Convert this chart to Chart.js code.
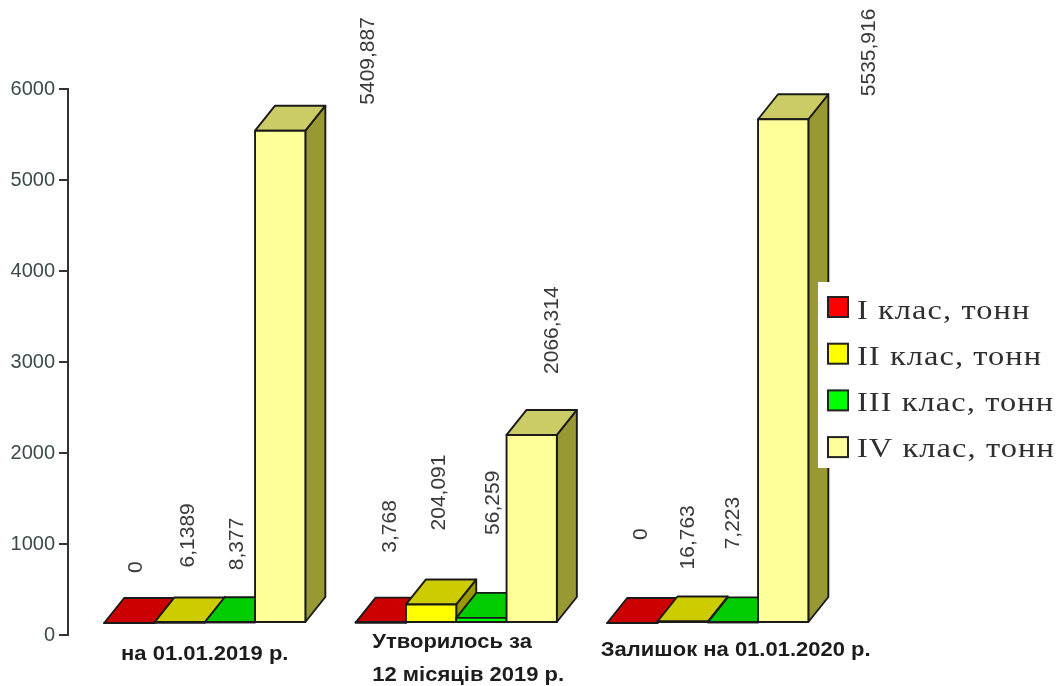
<!DOCTYPE html>
<html>
<head>
<meta charset="utf-8">
<style>
  html, body { margin: 0; padding: 0; background: #fff; }
  canvas { display: block; }
</style>
<script src="https://cdn.jsdelivr.net/npm/chart.js@4"></script>
</head>
<body>
<canvas id="wasteChart" width="1059" height="686"></canvas>
<script>
const categories = ["на 01.01.2019 р.", "Утворилось за 12 місяців 2019 р.", "Залишок на 01.01.2020 р."];
const seriesNames = ["I клас, тонн", "II клас, тонн", "III клас, тонн", "IV клас, тонн"];
const classOne = [0, 3.768, 0];
const classTwo = [6.1389, 204.091, 16.763];
const classThree = [8.377, 56.259, 7.223];
const classFour = [5409.887, 2066.314, 5535.916];
const yTicks = [0, 1000, 2000, 3000, 4000, 5000, 6000];

// front, top and side colours of each class
const faces = [
    { front: "#ff0000", top: "#cc0000", side: "#990000" },
    { front: "#ffff00", top: "#cccc00", side: "#999900" },
    { front: "#00ff00", top: "#00cc00", side: "#009900" },
    { front: "#ffff99", top: "#cccc66", side: "#999933" },
];

// the bars stand on a floor slightly up and right of the axis
const FLOOR_DX = 11;
const FLOOR_DY = -12;
const DEPTH_X = 20;
const DEPTH_Y = -25;

// value captions sit freely around the bars: [dx, dy] per dataset, per group
const captionNudge = [
    [[7, -50], [9, -70], [9, -83]],
    [[9, -55], [8, -74], [6, -52]],
    [[7, -52], [12, -83], [0, -73]],
    [[88, -26], [21, -61], [86, -23]],
];

function polygon(ctx, points, fill) {
    ctx.beginPath();
    points.forEach(([x, y], i) => (i ? ctx.lineTo(x, y) : ctx.moveTo(x, y)));
    ctx.closePath();
    ctx.fillStyle = fill;
    ctx.fill();
    ctx.stroke();
}

// text widened horizontally around its anchor
function wideText(ctx, text, x, y, stretch) {
    ctx.save();
    ctx.translate(x, y);
    ctx.scale(stretch, 1);
    ctx.fillText(text, 0, 0);
    ctx.restore();
}

const bars3d = {
    id: "bars3d",
    beforeDatasetsDraw(chart) {
        const ctx = chart.ctx;
        ctx.save();
        ctx.translate(FLOOR_DX, FLOOR_DY);
        ctx.strokeStyle = "#1a1a1a";
        ctx.lineWidth = 1.9;
        ctx.lineJoin = "round";
        chart.data.datasets.forEach((ds, i) => {
            chart.getDatasetMeta(i).data.forEach((bar) => {
                const left = bar.x - bar.width / 2;
                const right = bar.x + bar.width / 2;
                const top = bar.y;
                const base = bar.base;
                const c = faces[i];
                polygon(ctx, [[right, base], [right + DEPTH_X, base + DEPTH_Y], [right + DEPTH_X, top + DEPTH_Y], [right, top]], c.side);
                polygon(ctx, [[left, top], [right, top], [right + DEPTH_X, top + DEPTH_Y], [left + DEPTH_X, top + DEPTH_Y]], c.top);
                polygon(ctx, [[left, base], [right, base], [right, top], [left, top]], c.front);
            });
        });
        ctx.restore();
        return false;
    },
    afterDraw(chart) {
        const ctx = chart.ctx;
        const xScale = chart.scales.x;

        // rotated value captions
        ctx.save();
        ctx.font = "21px 'Liberation Sans'";
        ctx.fillStyle = "#3a3a3a";
        ctx.textBaseline = "middle";
        ctx.textAlign = "left";
        chart.data.datasets.forEach((ds, i) => {
            chart.getDatasetMeta(i).data.forEach((bar, j) => {
                const [dx, dy] = captionNudge[i][j];
                ctx.save();
                ctx.translate(bar.x + FLOOR_DX + dx, bar.y + FLOOR_DY + dy);
                ctx.rotate(-Math.PI / 2);
                ctx.fillText(String(ds.data[j]).replace(".", ","), 0, 0);
                ctx.restore();
            });
        });
        ctx.restore();

        // group captions under the bars
        ctx.save();
        ctx.font = "bold 20px 'Liberation Sans'";
        ctx.fillStyle = "#1c1c1c";
        ctx.textBaseline = "middle";
        ctx.textAlign = "center";
        wideText(ctx, categories[0], xScale.getPixelForValue(0) + 11, 654, 1.1);
        ctx.textAlign = "left";
        const split = categories[1].indexOf(" 12 ");
        wideText(ctx, categories[1].slice(0, split), xScale.getPixelForValue(1) - 73, 642, 1.1);
        wideText(ctx, categories[1].slice(split + 1), xScale.getPixelForValue(1) - 73, 675, 1.1);
        ctx.textAlign = "center";
        wideText(ctx, categories[2], xScale.getPixelForValue(2) + 39, 650, 1.1);
        ctx.restore();

        // legend panel laid over the last bar's side
        ctx.save();
        ctx.fillStyle = "#fff";
        ctx.fillRect(818, 282, 241, 186);
        ctx.textBaseline = "middle";
        ctx.textAlign = "left";
        ctx.font = "27px 'Liberation Serif'";
        ctx.letterSpacing = "0.9px";
        chart.data.datasets.forEach((ds, i) => {
            const boxY = 307 + i * 46.7;
            const textY = 312 + i * 46;
            ctx.fillStyle = ds.backgroundColor;
            ctx.strokeStyle = "#222";
            ctx.lineWidth = 2;
            ctx.fillRect(828, boxY - 10, 20, 20);
            ctx.strokeRect(828, boxY - 10, 20, 20);
            ctx.fillStyle = "#2f2f2f";
            wideText(ctx, ds.label, 857, textY, 1.2);
        });
        ctx.restore();
    },
};

new Chart(document.getElementById("wasteChart"), {
    type: "bar",
    data: {
        labels: categories,
        datasets: [classOne, classTwo, classThree, classFour].map((values, i) => ({
            label: seriesNames[i],
            data: values,
            backgroundColor: faces[i].front,
        })),
    },
    options: {
        responsive: false,
        animation: false,
        layout: { padding: { top: 89, right: 236.5, bottom: 51, left: 0 } },
        datasets: { bar: { categoryPercentage: 0.8, barPercentage: 1 } },
        plugins: {
            legend: { display: false },
            tooltip: { enabled: false },
        },
        scales: {
            x: { display: false },
            y: {
                min: 0,
                max: 6000,
                afterFit(scale) {
                    scale.width = 68;
                },
                afterBuildTicks(scale) {
                    scale.ticks = yTicks.map((value) => ({ value }));
                },
                border: { color: "#333", width: 2 },
                grid: { drawOnChartArea: false, color: "#333", lineWidth: 2, tickLength: 9 },
                ticks: {
                    color: "#3c4a4a",
                    padding: 4,
                    font: { family: "'Liberation Sans'", size: 20 },
                    callback: (value) => String(value),
                },
            },
        },
    },
    plugins: [bars3d],
});
</script>
</body>
</html>
